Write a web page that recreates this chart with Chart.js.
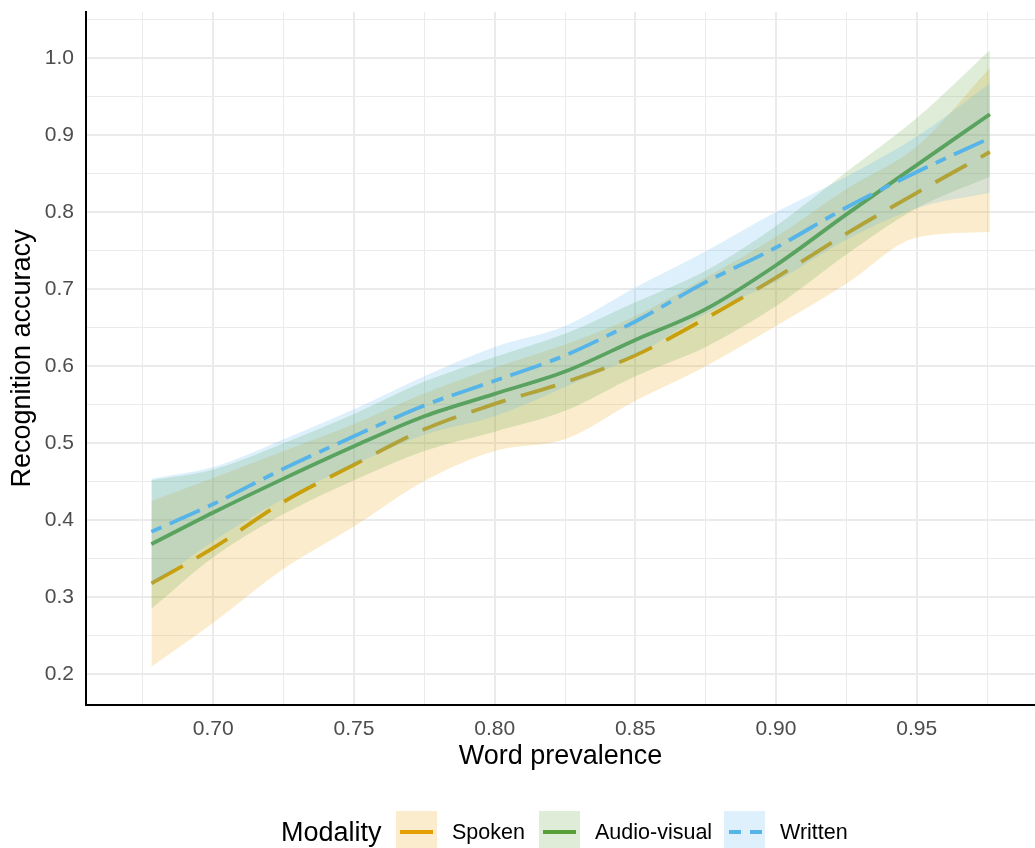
<!DOCTYPE html>
<html>
<head>
<meta charset="utf-8">
<script src="https://cdn.jsdelivr.net/npm/chart.js@4.4.0/dist/chart.umd.min.js"></script>
<style>
html,body{margin:0;padding:0;background:#fff;overflow:hidden;width:1035px;height:848px}
#wrap{position:relative;width:1035px;height:848px;overflow:hidden}
#c{position:absolute;left:0;top:0}
.lg{position:absolute;font-family:"Liberation Sans",Arial,sans-serif;color:#000;white-space:nowrap;top:811px;height:42px;line-height:42px}
.key{position:absolute;top:811px;width:41px;height:42px}
.seg{position:absolute;top:19px;height:4px}
</style>
</head>
<body>
<div id="wrap">
<canvas id="c" width="1035" height="848"></canvas>
<div class="lg" style="left:281px;font-size:27px">Modality</div>
<div class="key" style="left:396px;background:#FAECCC"><div class="seg" style="left:4px;width:33px;background:#E69F00"></div></div>
<div class="lg" style="left:452px;font-size:21.5px">Spoken</div>
<div class="key" style="left:539px;background:#DEECD8"><div class="seg" style="left:4px;width:33px;background:#5A9E3C"></div></div>
<div class="lg" style="left:595px;font-size:21.5px">Audio-visual</div>
<div class="key" style="left:724px;background:#DDF0FB"><div class="seg" style="left:5px;width:12px;background:#56B4E9"></div><div class="seg" style="left:26px;width:12px;background:#56B4E9"></div></div>
<div class="lg" style="left:780px;font-size:21.5px">Written</div>
</div>
<script>
// Word prevalence sample positions (x)
const prevalence = [0.678, 0.70, 0.725, 0.75, 0.775, 0.80, 0.825, 0.85, 0.875, 0.90, 0.925, 0.95, 0.976];

// Spoken
const spokenFit = [0.318, 0.364, 0.424, 0.472, 0.518, 0.551, 0.579, 0.614, 0.662, 0.715, 0.772, 0.825, 0.878];
const spokenLo  = [0.210, 0.267, 0.337, 0.392, 0.451, 0.490, 0.505, 0.555, 0.600, 0.652, 0.707, 0.767, 0.774];
const spokenHi  = [0.425, 0.455, 0.490, 0.525, 0.565, 0.598, 0.628, 0.665, 0.715, 0.768, 0.830, 0.885, 0.987];

// Audio-visual
const avFit = [0.369, 0.410, 0.454, 0.496, 0.535, 0.564, 0.593, 0.634, 0.674, 0.731, 0.797, 0.861, 0.927];
const avLo  = [0.285, 0.352, 0.408, 0.452, 0.490, 0.515, 0.542, 0.587, 0.625, 0.678, 0.745, 0.805, 0.846];
const avHi  = [0.452, 0.466, 0.500, 0.538, 0.580, 0.612, 0.642, 0.683, 0.724, 0.782, 0.852, 0.922, 1.010];

// Written
const writtenFit = [0.385, 0.421, 0.467, 0.509, 0.549, 0.581, 0.614, 0.658, 0.709, 0.754, 0.806, 0.852, 0.896];
const writtenLo  = [0.315, 0.373, 0.428, 0.472, 0.511, 0.535, 0.573, 0.614, 0.668, 0.710, 0.764, 0.805, 0.825];
const writtenHi  = [0.454, 0.469, 0.505, 0.544, 0.587, 0.625, 0.652, 0.702, 0.749, 0.800, 0.846, 0.898, 0.967];

// Tick positions (major + minor grid)
const xTicks = [0.675, 0.70, 0.725, 0.75, 0.775, 0.80, 0.825, 0.85, 0.875, 0.90, 0.925, 0.95, 0.975];
const xTickLabels = ['', '0.70', '', '0.75', '', '0.80', '', '0.85', '', '0.90', '', '0.95', ''];
const yTicks = [0.2, 0.25, 0.3, 0.35, 0.4, 0.45, 0.5, 0.55, 0.6, 0.65, 0.7, 0.75, 0.8, 0.85, 0.9, 0.95, 1.0, 1.05];
const yTickLabels = ['0.2', '', '0.3', '', '0.4', '', '0.5', '', '0.6', '', '0.7', '', '0.8', '', '0.9', '', '1.0', ''];

const pts = (ys) => prevalence.map((x, i) => ({x: x, y: ys[i]}));

const C_SPOKEN = '#E69F00', C_AV = '#5A9E3C', C_WRITTEN = '#56B4E9';
const F_SPOKEN = 'rgba(230,159,0,0.2)', F_AV = 'rgba(90,158,60,0.2)', F_WRITTEN = 'rgba(86,180,233,0.2)';
const LW = 3.8;

const lineBase = {pointRadius: 0, cubicInterpolationMode: 'monotone', borderCapStyle: 'butt'};
const datasets = [
  Object.assign({label: 'Written', data: pts(writtenFit), borderColor: C_WRITTEN, borderWidth: LW, borderDash: [11, 9, 33, 9], fill: false, order: 0}, lineBase),
  Object.assign({label: 'Written upper', data: pts(writtenHi), borderWidth: 0, borderColor: 'rgba(0,0,0,0)', backgroundColor: F_WRITTEN, fill: {target: 2}, order: 1}, lineBase),
  Object.assign({label: 'Written lower', data: pts(writtenLo), borderWidth: 0, borderColor: 'rgba(0,0,0,0)', fill: false, order: 2}, lineBase),
  Object.assign({label: 'Audio-visual', data: pts(avFit), borderColor: C_AV, borderWidth: LW, fill: false, order: 3}, lineBase),
  Object.assign({label: 'Audio-visual upper', data: pts(avHi), borderWidth: 0, borderColor: 'rgba(0,0,0,0)', backgroundColor: F_AV, fill: {target: 5}, order: 4}, lineBase),
  Object.assign({label: 'Audio-visual lower', data: pts(avLo), borderWidth: 0, borderColor: 'rgba(0,0,0,0)', fill: false, order: 5}, lineBase),
  Object.assign({label: 'Spoken', data: pts(spokenFit), borderColor: C_SPOKEN, borderWidth: LW, borderDash: [36, 16], fill: false, order: 6}, lineBase),
  Object.assign({label: 'Spoken upper', data: pts(spokenHi), borderWidth: 0, borderColor: 'rgba(0,0,0,0)', backgroundColor: F_SPOKEN, fill: {target: 8}, order: 7}, lineBase),
  Object.assign({label: 'Spoken lower', data: pts(spokenLo), borderWidth: 0, borderColor: 'rgba(0,0,0,0)', fill: false, order: 8}, lineBase)
];

const FONT = '"Liberation Sans", Arial, sans-serif';
function zeroPad(scale) { scale.paddingTop = 0; scale.paddingBottom = 0; scale.paddingLeft = 0; scale.paddingRight = 0; }

new Chart(document.getElementById('c'), {
  type: 'line',
  data: {datasets: datasets},
  options: {
    responsive: false,
    devicePixelRatio: 1,
    animation: false,
    layout: {padding: {top: 12, right: 0, bottom: 63, left: 0}},
    plugins: {legend: {display: false}, tooltip: {enabled: false}},
    scales: {
      x: {
        type: 'linear',
        min: 0.65476, max: 0.99204,
        afterBuildTicks: (s) => { s.ticks = xTicks.map(v => ({value: v})); },
        afterFit: (s) => { s.height = 80; zeroPad(s); },
        ticks: {
          autoSkip: false, maxRotation: 0, minRotation: 0, padding: 12,
          color: '#4D4D4D', font: {family: FONT, size: 21},
          callback: (v, i) => xTickLabels[i]
        },
        grid: {color: '#EBEBEB', lineWidth: (ctx) => (ctx.index % 2 === 1 ? 2 : 1), drawTicks: false},
        border: {display: true, color: '#000000', width: 2},
        title: {display: true, text: 'Word prevalence', color: '#000', font: {family: FONT, size: 27}, padding: {top: 0, bottom: 12}}
      },
      y: {
        type: 'linear',
        min: 0.1602, max: 1.0597,
        afterBuildTicks: (s) => { s.ticks = yTicks.map(v => ({value: v})); },
        afterFit: (s) => { s.width = 86; zeroPad(s); },
        ticks: {
          autoSkip: false, padding: 12,
          color: '#4D4D4D', font: {family: FONT, size: 21},
          callback: (v, i) => yTickLabels[i]
        },
        grid: {color: '#EBEBEB', lineWidth: (ctx) => (ctx.index % 2 === 0 ? 2 : 1), drawTicks: false},
        border: {display: true, color: '#000000', width: 2},
        title: {display: true, text: 'Recognition accuracy', color: '#000', font: {family: FONT, size: 27}, padding: {top: 6, bottom: 0}}
      }
    }
  }
});
</script>
</body>
</html>
